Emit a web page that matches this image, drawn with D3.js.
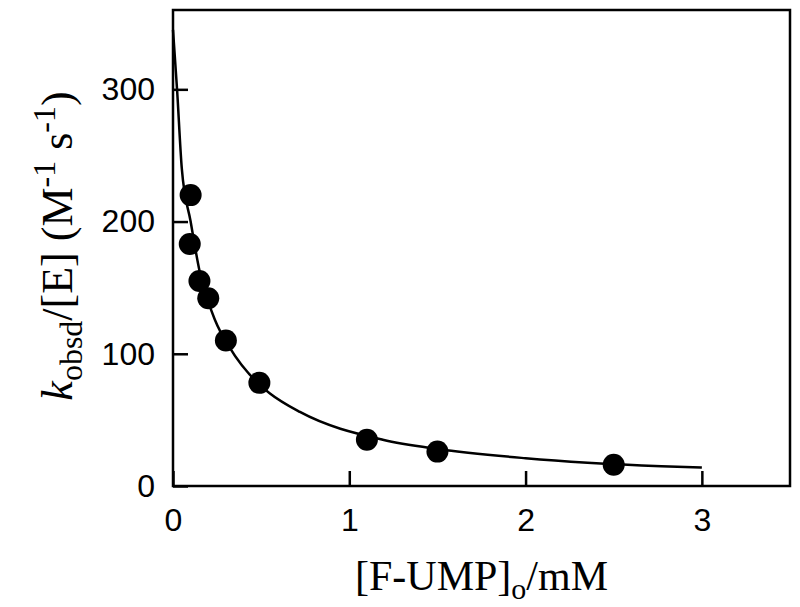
<!DOCTYPE html>
<html>
<head>
<meta charset="utf-8">
<script src="https://cdn.jsdelivr.net/npm/d3@7"></script>
<style>
  body { margin: 0; background: #fff; }
  #chart { width: 800px; height: 607px; }
</style>
</head>
<body>
<div id="chart"></div>
<script>
const width = 800;
const height = 607;
const margin = { top: 10, left: 173, right: 10, bottom: 121 };

// measured points: [F-UMP]o (mM) vs kobsd/[E] (M^-1 s^-1)
const concMM = [0.1, 0.095, 0.15, 0.2, 0.3, 0.49, 1.1, 1.5, 2.5];
const rate = [220, 183, 155, 142, 110, 78, 35, 26, 16];

// fitted curve
const fitX = [0, 0.023, 0.05, 0.1, 0.15, 0.24, 0.32, 0.48, 0.55, 0.72, 1.19, 1.5, 2.0, 2.77, 3.0];
const fitY = [345, 300, 240, 200, 163, 125, 105, 78, 70, 56, 35, 28, 21, 15, 14];

const xTicks = [0, 1, 2, 3];
const yTicks = [0, 100, 200, 300];

const svg = d3.select("#chart")
    .append("svg")
    .attr("width", width)
    .attr("height", height);

const x = d3.scaleLinear().domain([0, 3.5]).range([margin.left, width - margin.right]);
const y = d3.scaleLinear().domain([0, 360]).range([height - margin.bottom, margin.top]);

const tickFont = "32px 'Liberation Sans', Arial, sans-serif";

// x axis (ticks point inward)
const gx = svg.append("g")
    .attr("transform", `translate(0,${y(0)})`)
    .call(d3.axisBottom(x).tickValues(xTicks).tickFormat(d3.format("d"))
        .tickSizeInner(-15).tickSizeOuter(0).tickPadding(22));

const gy = svg.append("g")
    .attr("transform", `translate(${x(0)},0)`)
    .call(d3.axisLeft(y).tickValues(yTicks).tickFormat(d3.format("d"))
        .tickSizeInner(-15).tickSizeOuter(0).tickPadding(18));

[gx, gy].forEach(g => {
    g.select(".domain").remove();
    g.selectAll("line").attr("stroke", "#000").attr("stroke-width", 2.5);
    g.selectAll("text").style("font", tickFont).attr("fill", "#000");
});

// frame
svg.append("rect")
    .attr("x", x(0))
    .attr("y", y(360))
    .attr("width", x(3.5) - x(0))
    .attr("height", y(0) - y(360))
    .attr("fill", "none")
    .attr("stroke", "#000")
    .attr("stroke-width", 2.5);

// fit line
const line = d3.line()
    .x((d, i) => x(fitX[i]))
    .y(d => y(d))
    .curve(d3.curveMonotoneX);

svg.append("path")
    .datum(fitY)
    .attr("d", line)
    .attr("fill", "none")
    .attr("stroke", "#000")
    .attr("stroke-width", 2.5);

// data points
svg.append("g")
    .selectAll("circle")
    .data(rate)
    .join("circle")
    .attr("cx", (d, i) => x(concMM[i]))
    .attr("cy", d => y(d))
    .attr("r", 11)
    .attr("fill", "#000");

const serif = "'Liberation Serif', 'Times New Roman', serif";

// x label
const xl = svg.append("text")
    .attr("x", (x(0) + x(3.5)) / 2)
    .attr("y", 590)
    .attr("text-anchor", "middle")
    .style("font-family", serif)
    .style("font-size", "42px");
xl.append("tspan").text("[F-UMP]");
xl.append("tspan").attr("dy", 9).style("font-size", "30px").text("o");
xl.append("tspan").attr("dy", -9).text("/mM");

// y label
const yl = svg.append("text")
    .attr("transform", `translate(72,${(y(0) + y(360)) / 2 - 2}) rotate(-90)`)
    .attr("text-anchor", "middle")
    .style("font-family", serif)
    .style("font-size", "44px");
yl.append("tspan").style("font-style", "italic").text("k");
yl.append("tspan").attr("dy", 10).style("font-size", "32px").text("obsd");
yl.append("tspan").attr("dy", -10).text("/[E] (M");
yl.append("tspan").attr("dy", -17).style("font-size", "32px").text("-1");
yl.append("tspan").attr("dy", 17).text(" s");
yl.append("tspan").attr("dy", -17).style("font-size", "32px").text("-1");
yl.append("tspan").attr("dy", 17).text(")");
</script>
</body>
</html>
